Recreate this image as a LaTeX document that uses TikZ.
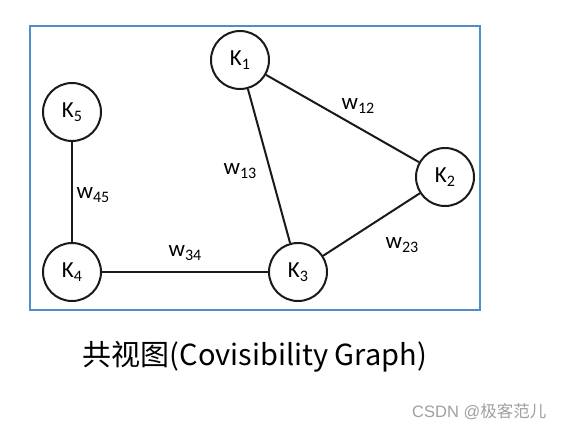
\documentclass[tikz,border=0pt]{standalone}
\usepackage{fontspec}
\setmainfont{Carlito}
\newfontfamily\cjk{Noto Sans CJK SC}
\newfontfamily\wmfont{Liberation Sans}
\definecolor{framecol}{HTML}{4F8FC8}
\definecolor{edgecol}{HTML}{1A1A1A}
\definecolor{wmcol}{HTML}{A0A0A0}
\newcommand{\ksub}[1]{\raisebox{-4pt}{\fontsize{16}{16}\selectfont #1}}
\tikzset{
  kf/.style={circle, draw=edgecol, line width=2pt, fill=white, minimum size=58pt, inner sep=0pt, font=\fontsize{23}{23}\selectfont},
  edge/.style={draw=edgecol, line width=2pt},
  wlab/.style={font=\fontsize{23}{23}\selectfont, inner sep=0pt}
}
\begin{document}
\begin{tikzpicture}[x=1pt,y=-1pt]
\fill[white] (0,0) rectangle (564,432);
\useasboundingbox (0,0) rectangle (564,432);
\draw[framecol, line width=2.4pt] (30,26) rectangle (480,310);
\node[kf] (k1) at (240,60) {K\ksub{1}};
\node[kf] (k2) at (445,177) {K\ksub{2}};
\node[kf] (k3) at (298,272) {K\ksub{3}};
\node[kf] (k4) at (72,272) {K\ksub{4}};
\node[kf] (k5) at (72,112) {K\ksub{5}};
\draw[edge] (k1) -- (k2);
\draw[edge] (k1) -- (k3);
\draw[edge] (k2) -- (k3);
\draw[edge] (k3) -- (k4);
\draw[edge] (k4) -- (k5);
\node[wlab] (w12) at (358,106) {w\ksub{12}};
\node[wlab] (w13) at (240,171) {w\ksub{13}};
\node[wlab] (w45) at (93,195) {w\ksub{45}};
\node[wlab] (w34) at (185,253) {w\ksub{34}};
\node[wlab] (w23) at (402,245) {w\ksub{23}};
\node[font=\cjk\fontsize{29}{29}\selectfont, inner sep=0pt] (cap) at (255,357) {共视图(Covisibility Graph)};
\node[font=\fontsize{16.5}{16.5}\selectfont, text=wmcol, inner sep=0pt, anchor=west] (wm) at (412,412) {{\wmfont CSDN @}{\cjk 极客范儿}};
\end{tikzpicture}
\end{document}
